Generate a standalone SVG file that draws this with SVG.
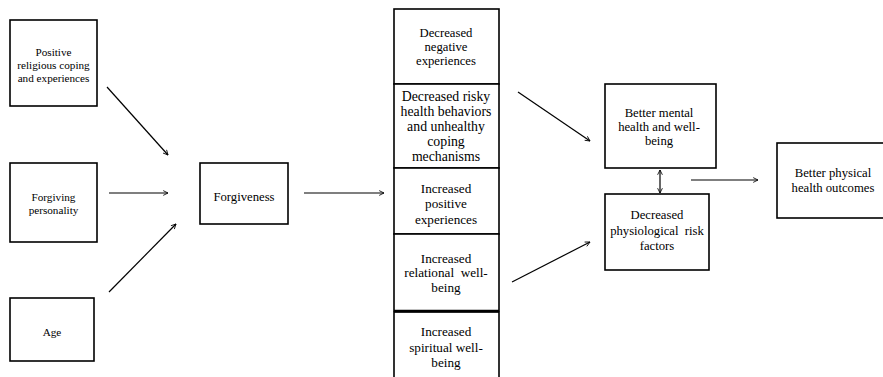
<svg xmlns="http://www.w3.org/2000/svg" width="883" height="377" viewBox="0 0 883 377">
<style>
.box{fill:#fff;stroke:#000;stroke-width:1.6}
.t{font-family:"Liberation Serif","Times New Roman",serif;font-size:12.7px;fill:#000;text-anchor:middle}
.s{font-size:11.2px}
.m{font-size:13.2px}
.l{font-size:13.8px}
.pre{white-space:pre}
.c{stroke:#000;stroke-width:1.2;fill:none}
</style>
<defs>
<marker id="ah" viewBox="0 0 10 10" refX="9" refY="5" markerWidth="6" markerHeight="6" markerUnits="userSpaceOnUse" orient="auto-start-reverse">
<polyline points="1,1 9,5 1,9" fill="none" stroke="#000" stroke-width="1.4"/>
</marker>
</defs>
<rect width="883" height="377" fill="#fff"/>
<g id="connectors">
<line class="c" x1="107" y1="87" x2="168" y2="155" marker-end="url(#ah)"/>
<line class="c" x1="109" y1="193" x2="168" y2="193" marker-end="url(#ah)"/>
<line class="c" x1="109" y1="292" x2="176" y2="224" marker-end="url(#ah)"/>
<line class="c" x1="304" y1="193" x2="384" y2="193" marker-end="url(#ah)"/>
<line class="c" x1="518" y1="92" x2="590" y2="141" marker-end="url(#ah)"/>
<line class="c" x1="512" y1="282" x2="590" y2="242" marker-end="url(#ah)"/>
<line class="c" x1="660" y1="170" x2="660" y2="193" marker-start="url(#ah)" marker-end="url(#ah)"/>
<line class="c" x1="691" y1="180" x2="758" y2="180" marker-end="url(#ah)"/>
</g>
<g id="n-religious">
<rect class="box" x="10" y="20" width="87" height="86"/>
<text class="t s" x="53.5" y="56">Positive</text>
<text class="t s" x="53.5" y="69">religious coping</text>
<text class="t s" x="53.5" y="82">and experiences</text>
</g>
<g id="n-personality">
<rect class="box" x="10" y="163" width="87" height="79"/>
<text class="t s" x="53.5" y="201">Forgiving</text>
<text class="t s" x="53.5" y="214">personality</text>
</g>
<g id="n-age">
<rect class="box" x="10" y="298" width="84" height="63"/>
<text class="t s" x="52" y="336">Age</text>
</g>
<g id="n-forgiveness">
<rect class="box" x="200" y="163" width="88" height="61"/>
<text class="t" x="244" y="201">Forgiveness</text>
</g>
<g id="n-neg">
<rect class="box" x="394" y="9" width="105" height="75"/>
<text class="t" x="446" y="37">Decreased</text>
<text class="t" x="446" y="51">negative</text>
<text class="t" x="446" y="65">experiences</text>
</g>
<g id="n-risky">
<rect class="box" x="394" y="84" width="105" height="84"/>
<text class="t l" x="446" y="101">Decreased risky</text>
<text class="t l" x="446" y="116">health behaviors</text>
<text class="t l" x="446" y="131">and unhealthy</text>
<text class="t l" x="446" y="146">coping</text>
<text class="t l" x="446" y="161">mechanisms</text>
</g>
<g id="n-pos">
<rect class="box" x="394" y="168" width="105" height="66"/>
<text class="t m" x="446" y="193">Increased</text>
<text class="t m" x="446" y="208">positive</text>
<text class="t m" x="446" y="224">experiences</text>
</g>
<g id="n-relational">
<rect class="box" x="394" y="234" width="105" height="77"/>
<text class="t m" x="446" y="263">Increased</text>
<text class="t m pre" x="446" y="277">relational  well-</text>
<text class="t m" x="446" y="292">being</text>
</g>
<g id="n-spiritual">
<rect class="box" x="394" y="312" width="105" height="70"/>
<line x1="394" y1="311" x2="499" y2="311" stroke="#000" stroke-width="2.5"/>
<text class="t m" x="446" y="336">Increased</text>
<text class="t m" x="446" y="352">spiritual well-</text>
<text class="t m" x="446" y="367">being</text>
</g>
<g id="n-mental">
<rect class="box" x="605" y="84" width="111" height="84"/>
<text class="t" x="659" y="117">Better mental</text>
<text class="t" x="659" y="131">health and well-</text>
<text class="t" x="659" y="145">being</text>
</g>
<g id="n-physio">
<rect class="box" x="605" y="194" width="104" height="76"/>
<text class="t" x="657" y="219">Decreased</text>
<text class="t pre" x="657" y="235">physiological  risk</text>
<text class="t" x="657" y="250">factors</text>
</g>
<g id="n-physical">
<rect class="box" x="777" y="143" width="110" height="75"/>
<text class="t" x="833" y="177">Better physical</text>
<text class="t" x="833" y="192">health outcomes</text>
</g>
</svg>
